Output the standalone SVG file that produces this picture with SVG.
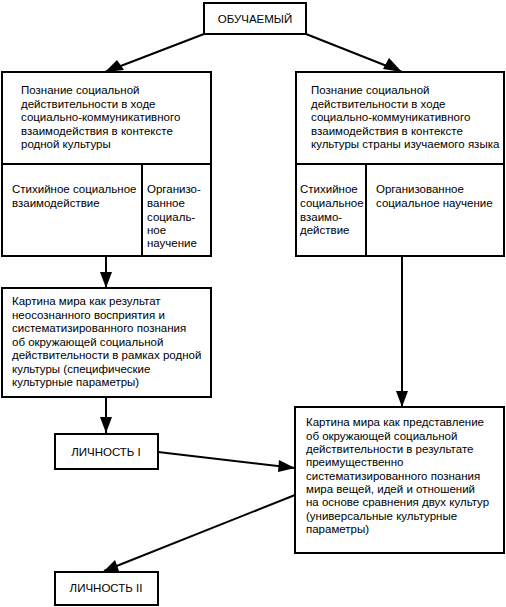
<svg xmlns="http://www.w3.org/2000/svg" width="506" height="607" viewBox="0 0 506 607">
<style>
.b{fill:#fff;stroke:#000;stroke-width:2}
.l{fill:none;stroke:#000;stroke-width:2}
text{font-family:"Liberation Sans",Arial,sans-serif;font-size:11.5px;fill:#000}
.c{text-anchor:middle}
</style>
<rect width="506" height="607" fill="#fff"/>
<g id="connectors">
<line class="l" x1="204" y1="34" x2="105" y2="72"/>
<line class="l" x1="306" y1="34" x2="402" y2="72"/>
<line class="l" x1="106" y1="256" x2="106" y2="288"/>
<line class="l" x1="106" y1="397" x2="106" y2="433"/>
<line class="l" x1="402" y1="256" x2="402" y2="407"/>
<line class="l" x1="158" y1="452" x2="295" y2="468"/>
<line class="l" x1="295" y1="495" x2="104" y2="571"/>
<g fill="#000">
<polygon points="105,72 117,60 124,70"/>
<polygon points="402,72 383,69 389,58"/>
<polygon points="106,288 100,272 112,272"/>
<polygon points="106,433 100,417 112,417"/>
<polygon points="402,407 396,391 408,391"/>
<polygon points="295,468 279,460 278,472"/>
<polygon points="104,571 115,560 119,571"/>
</g>
</g>
<g id="n_obuch">
<rect class="b" x="204" y="3" width="102" height="31"/>
<text class="c" x="255" y="23">ОБУЧАЕМЫЙ</text>
</g>
<g id="n_left_top">
<rect class="b" x="2" y="72" width="209" height="92"/>
<text><tspan x="21" y="94">Познание социальной</tspan><tspan x="21" y="107.5">действительности в ходе</tspan><tspan x="21" y="121">социально-коммуникативного</tspan><tspan x="21" y="134.5">взаимодействия в контексте</tspan><tspan x="21" y="148">родной культуры</tspan></text>
</g>
<g id="n_left_stih">
<rect class="b" x="2" y="164" width="140" height="92"/>
<text><tspan x="12" y="193">Стихийное социальное</tspan><tspan x="12" y="207">взаимодействие</tspan></text>
</g>
<g id="n_left_org">
<rect class="b" x="142" y="164" width="69" height="92"/>
<text><tspan x="147" y="193">Организо-</tspan><tspan x="147" y="207">ванное</tspan><tspan x="147" y="221">социаль-</tspan><tspan x="147" y="234">ное</tspan><tspan x="147" y="247">научение</tspan></text>
</g>
<g id="n_right_top">
<rect class="b" x="296" y="72" width="208" height="92"/>
<text><tspan x="311" y="94">Познание социальной</tspan><tspan x="311" y="107.5">действительности в ходе</tspan><tspan x="311" y="121">социально-коммуникативного</tspan><tspan x="311" y="134.5">взаимодействия в контексте</tspan><tspan x="311" y="148">культуры страны изучаемого языка</tspan></text>
</g>
<g id="n_right_stih">
<rect class="b" x="296" y="164" width="70" height="92"/>
<text><tspan x="300" y="193">Стихийное</tspan><tspan x="300" y="207">социальное</tspan><tspan x="300" y="221">взаимо-</tspan><tspan x="300" y="234">действие</tspan></text>
</g>
<g id="n_right_org">
<rect class="b" x="366" y="164" width="138" height="92"/>
<text><tspan x="376" y="193">Организованное</tspan><tspan x="376" y="207">социальное научение</tspan></text>
</g>
<g id="n_left_kart">
<rect class="b" x="2" y="288" width="209" height="109"/>
<text><tspan x="12" y="305">Картина мира как результат</tspan><tspan x="12" y="318.5">неосознанного восприятия и</tspan><tspan x="12" y="332">систематизированного познания</tspan><tspan x="12" y="345.5">об окружающей социальной</tspan><tspan x="12" y="359">действительности в рамках родной</tspan><tspan x="12" y="372.5">культуры (специфические</tspan><tspan x="12" y="386">культурные параметры)</tspan></text>
</g>
<g id="n_right_kart">
<rect class="b" x="295" y="407" width="209" height="146"/>
<text><tspan x="306" y="426">Картина мира как представление</tspan><tspan x="306" y="439.5">об окружающей социальной</tspan><tspan x="306" y="453">действительности в результате</tspan><tspan x="306" y="466">преимущественно</tspan><tspan x="306" y="479.5">систематизированного познания</tspan><tspan x="306" y="493">мира вещей, идей и отношений</tspan><tspan x="306" y="506">на основе сравнения двух культур</tspan><tspan x="306" y="519.5">(универсальные культурные</tspan><tspan x="306" y="533">параметры)</tspan></text>
</g>
<g id="n_lich1">
<rect class="b" x="55" y="434" width="103" height="35"/>
<text class="c" x="106" y="456">ЛИЧНОСТЬ I</text>
</g>
<g id="n_lich2">
<rect class="b" x="55" y="572" width="103" height="33"/>
<text class="c" x="106" y="592">ЛИЧНОСТЬ II</text>
</g>
</svg>
